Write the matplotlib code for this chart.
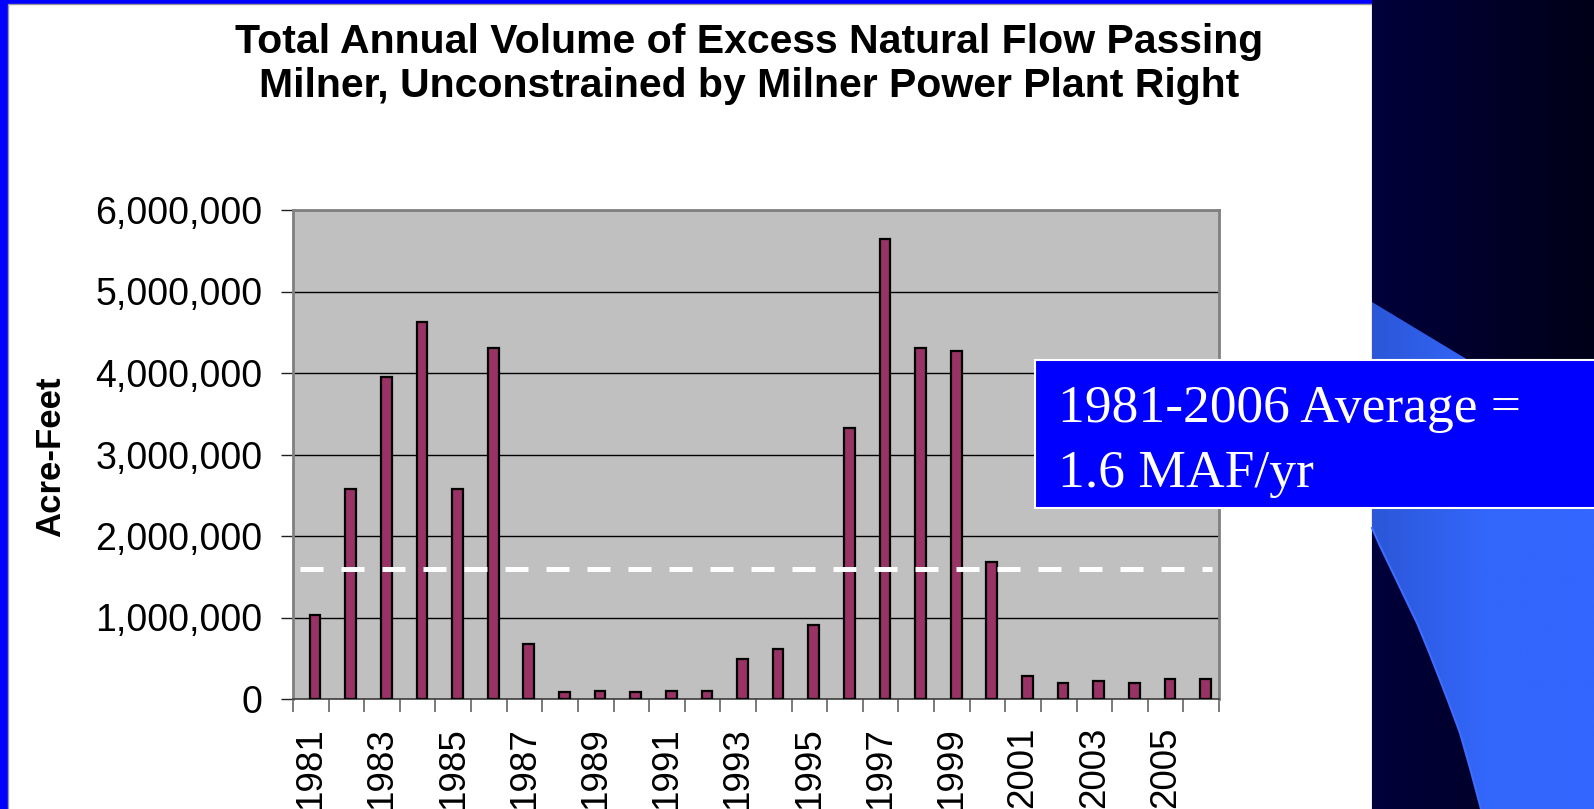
import numpy as np
import matplotlib
matplotlib.use("Agg")
import matplotlib.pyplot as plt
from matplotlib.patches import Rectangle, Polygon
from matplotlib.colors import LinearSegmentedColormap
from matplotlib.ticker import FuncFormatter

# data
years = list(range(1981, 2007))
volume_af = [1030000, 2580000, 3950000, 4630000, 2580000, 4310000, 670000,
             80000, 100000, 80000, 100000, 100000, 490000, 610000, 910000,
             3320000, 5640000, 4310000, 4270000, 1680000, 280000, 200000,
             225000, 200000, 250000, 250000]
average_af = 1600000
title_lines = ["Total Annual Volume of Excess Natural Flow Passing",
               "Milner, Unconstrained by Milner Power Plant Right"]
box_lines = ["1981-2006 Average =", "1.6 MAF/yr"]

W, H = 1594, 809
SANS = ["Liberation Sans", "DejaVu Sans"]
SERIF = ["Liberation Serif", "DejaVu Serif"]

fig = plt.figure(figsize=(W / 100, H / 100), dpi=100)
fig.patch.set_facecolor("white")

# --- slide background, pixel coordinates ---
bg = fig.add_axes([0, 0, 1, 1])
bg.set_xlim(0, W)
bg.set_ylim(H, 0)
bg.axis("off")

panel_right = 1372
bg.add_patch(Rectangle((0, 0), 8, H, color="#0000FF", lw=0))
bg.add_patch(Rectangle((0, 0), panel_right, 4, color="#0000FF", lw=0))
bg.add_patch(Rectangle((8, 4), panel_right - 8, H, facecolor="white",
                       edgecolor="#9a9a9a", lw=1))

navy = LinearSegmentedColormap.from_list("navy", ["#00003c", "#000018"])
bg.imshow(np.linspace(0, 1, 200)[None, :], cmap=navy, aspect="auto",
          extent=[panel_right, W, H, 0], zorder=1)

# curved blue swoosh on the right
curve = [(1372, 528), (1380, 546), (1393, 573), (1405, 598), (1417, 623),
         (1429, 652), (1440, 680), (1450, 706), (1460, 733), (1470, 768),
         (1481, H)]
shape = Polygon([(1372, 302), (W, 436), (W, H)] + curve[::-1] + [(1372, 510)],
                closed=True, facecolor="none", edgecolor="none")
bg.add_patch(shape)
blue = LinearSegmentedColormap.from_list("blue", ["#2b57d8", "#3366fa", "#3366ff"])
grad = bg.imshow(np.linspace(0, 1, 200)[None, :], cmap=blue, aspect="auto",
                 extent=[panel_right, W, H, 0], zorder=2)
grad.set_clip_path(shape)
cx, cy = zip(*curve)
bg.plot(cx, cy, color="#3d6eff", lw=1.5, zorder=3)
bg.set_xlim(0, W)
bg.set_ylim(H, 0)

# title and y label
bg.text(749, 53, title_lines[0], ha="center", va="baseline", fontsize=29.5,
        fontweight="bold", family=SANS, zorder=3)
bg.text(749, 97, title_lines[1], ha="center", va="baseline", fontsize=29.5,
        fontweight="bold", family=SANS, zorder=3)
bg.text(51, 457, "Acre-Feet", rotation=90, ha="center", va="center",
        fontsize=25, fontweight="bold", family=SANS, zorder=3)

# --- chart ---
x0, x1, y_top, y_bot = 293, 1219, 210, 699
ax = fig.add_axes([x0 / W, (H - y_bot) / H, (x1 - x0) / W, (y_bot - y_top) / H])
ax.set_facecolor("#c0c0c0")

idx = np.arange(len(years))
ax.bar(idx + 0.12, volume_af, width=0.3, color="#993366", edgecolor="black",
       linewidth=1.6, zorder=3)
ax.hlines(average_af, -0.3, 25.3, colors="white", linewidth=3.6,
          linestyles=(0, (4.6, 3.6)), zorder=4)

ax.set_xlim(-0.5, len(years) - 0.5)
ax.set_ylim(0, 6000000)
ax.set_yticks(np.arange(0, 6000001, 1000000))
ax.yaxis.set_major_formatter(FuncFormatter(lambda v, p: f"{v:,.0f}"))
ax.grid(axis="y", color="black", linewidth=1, zorder=1)
ax.set_axisbelow(True)

ax.set_xticks(idx[::2])
ax.set_xticklabels([str(y) for y in years[::2]], rotation=90)
ax.set_xticks(np.arange(-0.5, len(years)), minor=True)
ax.tick_params(axis="x", which="major", length=0, pad=20, labelsize=26.5)
ax.tick_params(axis="x", which="minor", length=9.5, width=1.3, color="#707070")
ax.tick_params(axis="y", length=8.6, width=1, color="#202020", pad=13.5,
               labelsize=27)
for lab in ax.get_xticklabels() + ax.get_yticklabels():
    lab.set_family(SANS)

for s in ax.spines.values():
    s.set_color("#808080")
    s.set_linewidth(2)
ax.spines["bottom"].set_color("#404040")
ax.spines["bottom"].set_linewidth(1.2)

# --- average callout box ---
top = fig.add_axes([0, 0, 1, 1], zorder=10)
top.set_xlim(0, W)
top.set_ylim(H, 0)
top.axis("off")
top.add_patch(Rectangle((1035, 360), 600, 148, facecolor="#0000FF",
                        edgecolor="white", lw=1.5))
top.text(1058, 422, box_lines[0], color="white", fontsize=38.5, family=SERIF,
         va="baseline")
top.text(1058, 487, box_lines[1], color="white", fontsize=38.5, family=SERIF,
         va="baseline")

fig.savefig("out.png", dpi=100)
